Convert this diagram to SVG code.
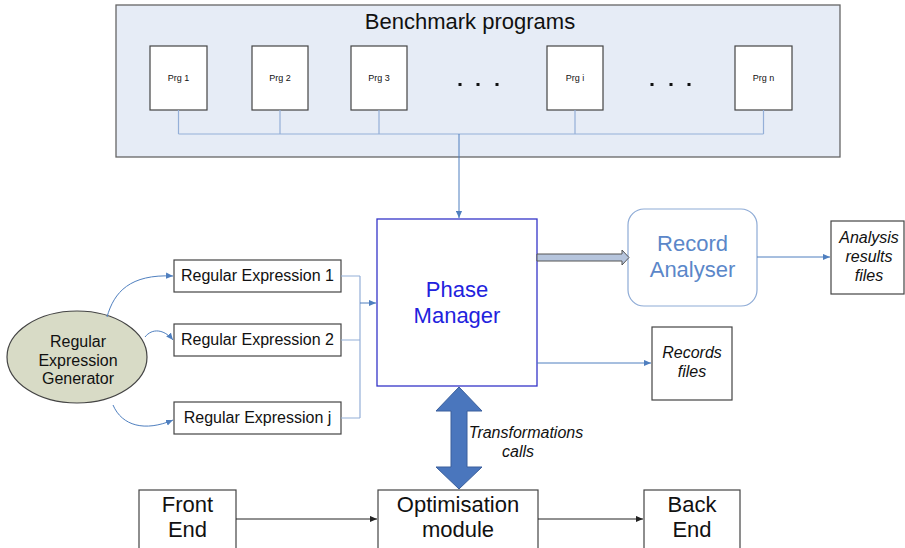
<svg xmlns="http://www.w3.org/2000/svg" width="905" height="548" viewBox="0 0 905 548">
<style>
text{font-family:"Liberation Sans",Arial,sans-serif;fill:#111}
.big{font-size:22px;text-anchor:middle}
.prg{font-size:9px;text-anchor:middle}
.re{font-size:16px;text-anchor:middle}
.it{font-size:16px;font-style:italic;text-anchor:middle}
.box{fill:#fff;stroke:#444;stroke-width:1.2}
.bus{fill:none;stroke:#94afd8;stroke-width:1.2}
.blue{fill:none;stroke:#4f7fbf;stroke-width:1}
.blk{fill:none;stroke:#222;stroke-width:1}
</style>
<defs>
<marker id="ab" viewBox="0 0 8 8" refX="8" refY="4" markerWidth="7" markerHeight="7" markerUnits="userSpaceOnUse" orient="auto"><path d="M0,0.5 L8,4 L0,7.5 z" fill="#4f7fbf"/></marker>
<marker id="ak" viewBox="0 0 8 8" refX="8" refY="4" markerWidth="7" markerHeight="7" markerUnits="userSpaceOnUse" orient="auto"><path d="M0,0.5 L8,4 L0,7.5 z" fill="#222"/></marker>
</defs>

<g id="benchmark">
<rect x="116" y="5" width="724" height="152" fill="#e6ecf6" stroke="#666" stroke-width="1.3"/>
<text class="big" x="470" y="29">Benchmark programs</text>
</g>
<g id="prg1"><rect class="box" x="150" y="46" width="57" height="64"/><text class="prg" x="178.5" y="81">Prg 1</text></g>
<g id="prg2"><rect class="box" x="252" y="46" width="56" height="64"/><text class="prg" x="280" y="81">Prg 2</text></g>
<g id="prg3"><rect class="box" x="351" y="46" width="56" height="64"/><text class="prg" x="379" y="81">Prg 3</text></g>
<g id="prgi"><rect class="box" x="547" y="46" width="56" height="64"/><text class="prg" x="575" y="81">Prg i</text></g>
<g id="prgn"><rect class="box" x="735" y="46" width="57" height="64"/><text class="prg" x="763.5" y="81">Prg n</text></g>
<g id="dots" fill="#111">
<rect x="458.5" y="83" width="3" height="3"/><rect x="476.5" y="83" width="3" height="3"/><rect x="495.5" y="83" width="3" height="3"/>
<rect x="650.5" y="83" width="3" height="3"/><rect x="669.5" y="83" width="3" height="3"/><rect x="687.5" y="83" width="3" height="3"/>
</g>

<g id="phase-manager">
<rect x="377" y="219" width="160" height="167" fill="#fff" stroke="#3535c8" stroke-width="1.3"/>
<text class="big" x="457" y="297" style="fill:#2222dd">Phase</text>
<text class="big" x="457" y="323" style="fill:#2222dd">Manager</text>
</g>
<g id="record-analyser">
<rect x="628" y="209" width="129" height="97" rx="16" fill="#fff" stroke="#8eabd6" stroke-width="1.2"/>
<text class="big" x="692.5" y="251" style="fill:#5b87c9">Record</text>
<text class="big" x="692.5" y="277" style="fill:#5b87c9">Analyser</text>
</g>
<g id="analysis-files">
<rect class="box" x="831" y="221" width="73" height="73"/>
<text class="it" x="869" y="243">Analysis</text>
<text class="it" x="869" y="262">results</text>
<text class="it" x="869" y="281">files</text>
</g>
<g id="records-files">
<rect class="box" x="652" y="327" width="80" height="73"/>
<text class="it" x="692" y="358">Records</text>
<text class="it" x="692" y="377">files</text>
</g>

<g id="generator">
<ellipse cx="77" cy="357" rx="70" ry="46" fill="#d8dbc6" stroke="#444" stroke-width="1.2"/>
<text class="re" x="78" y="347">Regular</text>
<text class="re" x="78" y="366">Expression</text>
<text class="re" x="78" y="384">Generator</text>
</g>
<g id="re1"><rect class="box" x="174" y="260" width="167" height="32"/><text class="re" x="257.5" y="281">Regular Expression 1</text></g>
<g id="re2"><rect class="box" x="174" y="324" width="167" height="32"/><text class="re" x="257.5" y="345">Regular Expression 2</text></g>
<g id="rej"><rect class="box" x="174" y="402" width="167" height="32"/><text class="re" x="257.5" y="423">Regular Expression j</text></g>

<g id="front-end"><rect class="box" x="139" y="490" width="97" height="62"/><text class="big" x="187.5" y="512">Front</text><text class="big" x="187.5" y="537">End</text></g>
<g id="optimisation"><rect class="box" x="378" y="490" width="160" height="62"/><text class="big" x="458" y="512">Optimisation</text><text class="big" x="458" y="537">module</text></g>
<g id="back-end"><rect class="box" x="644" y="490" width="96" height="62"/><text class="big" x="692" y="512">Back</text><text class="big" x="692" y="537">End</text></g>

<g id="connectors">
<path class="bus" d="M178.5,110 V134 M280,110 V134 M379,110 V134 M575,110 V134 M763.5,110 V134 M178.5,134 H763.5"/>
<path class="blue" d="M459,134 V218" marker-end="url(#ab)"/>
<path class="bus" d="M341,276 H360 M341,340 H360 M341,418 H360 M360,276 V418"/>
<path class="blue" d="M360,303 H376" marker-end="url(#ab)"/>
<path class="blue" d="M107,317 C114,292 130,274 173,276" marker-end="url(#ab)"/>
<path class="blue" d="M145,337 C152,328 164,329 173,340" marker-end="url(#ab)"/>
<path class="blue" d="M113,405 C122,426 145,432 173,420" marker-end="url(#ab)"/>
<path d="M537,254 H622 V250 L629,257.5 L622,265 V261 H537 z" fill="#b6c5dd" stroke="#555" stroke-width="1"/>
<path class="blue" d="M757,257 H830" marker-end="url(#ab)"/>
<path class="blue" d="M537,363 H651" marker-end="url(#ab)"/>
<path d="M459,387 L482,411 H467 V467 H482 L459,489 L436,467 H451 V411 H436 z" fill="#4a76bd" stroke="#3a5f9c" stroke-width="1"/>
<text class="it" x="526" y="438">Transformations</text>
<text class="it" x="518" y="457">calls</text>
<path class="blk" d="M236,519 H377" marker-end="url(#ak)"/>
<path class="blk" d="M538,519 H643" marker-end="url(#ak)"/>
</g>
</svg>
